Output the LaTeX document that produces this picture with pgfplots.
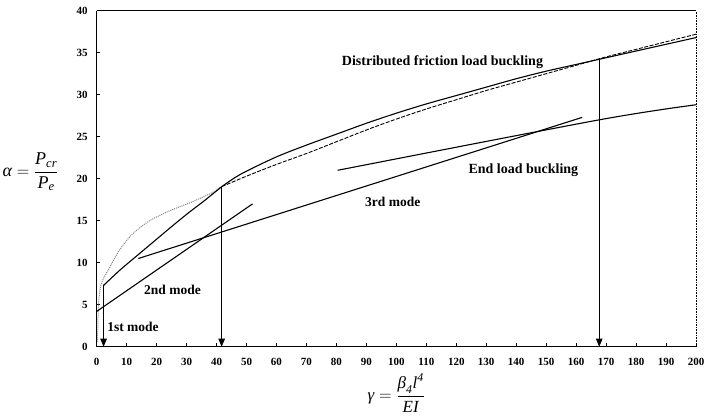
\documentclass[border=0pt]{standalone}
\usepackage{amsmath}
\usepackage{fontspec}
\setmainfont{Liberation Serif}
\usepackage{pgfplots}
\pgfplotsset{compat=1.18}
\usetikzlibrary{arrows.meta}
\begin{document}
\begin{tikzpicture}
\useasboundingbox (-96.7pt,-68.3pt) rectangle (607.3pt,346.7pt);
\begin{axis}[
  at={(0,0)}, anchor=south west,
  scale only axis, width=599.3pt, height=336pt,
  xmin=0, xmax=200, ymin=0, ymax=40,
  axis x line*=bottom, axis y line*=left,
  axis line style={-, line width=0.9pt},
  xtick={0,10,...,200}, ytick={0,5,...,40},
  tick align=inside, major tick length=3.5pt,
  tick style={line width=0.7pt, black},
  /pgf/number format/assume math mode=true,
  ticklabel style={font=\fontsize{11}{13}\selectfont\bfseries},
  xticklabel style={yshift=-8pt},
  yticklabel style={xshift=-5.5pt},
  clip=false,
  xlabel={\fontsize{17}{20}\selectfont $\textit{γ} = \displaystyle\frac{\textit{β}_{\textit{4}}\textit{l}^{\textit{4}}}{\textit{EI}}$},
  ylabel={\fontsize{18}{21}\selectfont $\textit{α} = \displaystyle\frac{\textit{P}_{\textit{cr}}}{\textit{P}_{\textit{e}}}$},
  every axis x label/.style={at={(axis description cs:0.5,-0.138)}, anchor=center},
  every axis y label/.style={at={(axis description cs:-0.058,0.52)}, anchor=east},
]
\draw[line width=0.9pt] (rel axis cs:0,1) -- (rel axis cs:1,1);
\draw[densely dotted, line width=0.6pt] (rel axis cs:1,0) -- (rel axis cs:1,1);

% gray dotted early curve
\addplot[gray, densely dotted, line width=1pt, smooth, tension=0.4] coordinates {
(0.3,0.6) (0.4,3.0) (0.7,5.5) (1.3,7.2) (2.5,8.3) (4,9.2) (7.2,11.3) (11.6,13.3)
(17.2,14.9) (23.8,16.1) (31.6,17.2) (38.3,18.3) (41.7,19.05)};

% solid envelope (distributed friction load buckling)
\addplot[black, line width=1.1pt, smooth, tension=0.4] coordinates {
(2.3,7.3) (8,9.2) (14,11.0) (20,12.8) (25,14.3) (30.5,15.9) (36,17.4) (41.7,19.05)};
\addplot[black, line width=1.1pt, smooth, tension=0.5] coordinates {
(41.7,19.05) (46,20.1) (50,20.9) (60,22.6) (70,24.0) (80,25.3) (90,26.6) (100,27.8)
(110,28.9) (120,29.9) (130,30.9) (140,31.9) (150,32.8) (160,33.6) (170,34.4)
(180,35.2) (190,36.0) (200,36.8)};

% dashed curve
\addplot[black, line width=0.9pt, dash pattern=on 4pt off 1.5pt, smooth, tension=0.5] coordinates {
(41.7,19.05) (50,20.3) (60,21.7) (70,23.0) (80,24.4) (90,25.8) (100,27.1)
(110,28.3) (120,29.4) (130,30.5) (140,31.5) (150,32.5) (160,33.5) (170,34.5)
(180,35.4) (190,36.3) (200,37.2)};

% 2nd mode line
\addplot[black, line width=1.1pt] coordinates {(0,4.2) (52,17.0)};
% 3rd mode line
\addplot[black, line width=1.1pt] coordinates {(13.9,10.5) (162,27.3)};
% end load buckling line
\addplot[black, line width=1.1pt, smooth] coordinates {(80.4,21.0) (167.6,27.0) (200,28.8)};

% arrows
\addplot[black, line width=0.8pt, -{Triangle[length=8pt,width=6.5pt]}] coordinates {(2.3,7.3) (2.3,0)};
\addplot[black, line width=0.8pt, -{Triangle[length=8pt,width=6.5pt]}] coordinates {(41.7,19.05) (41.7,0)};
\addplot[black, line width=0.8pt, -{Triangle[length=8pt,width=6.5pt]}] coordinates {(167.7,34.3) (167.7,0)};

\node[font=\fontsize{14}{16}\selectfont\bfseries] at (axis cs:115.4,33.9) {Distributed friction load buckling};
\node[font=\fontsize{14}{16}\selectfont\bfseries] at (axis cs:142.4,21.0) {End load buckling};
\node[font=\fontsize{13.5}{16}\selectfont\bfseries] at (axis cs:98.8,17.2) {3rd mode};
\node[font=\fontsize{13.5}{16}\selectfont\bfseries] at (axis cs:25.3,6.8) {2nd mode};
\node[font=\fontsize{13.5}{16}\selectfont\bfseries] at (axis cs:12.1,2.4) {1st mode};
\end{axis}
\end{tikzpicture}
\end{document}
